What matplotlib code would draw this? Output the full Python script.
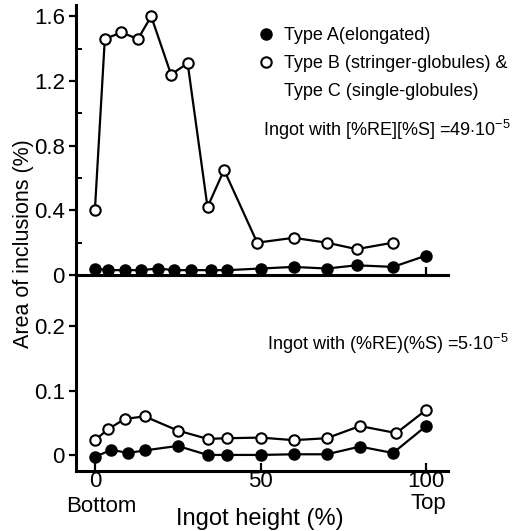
import matplotlib
matplotlib.use("Agg")
import matplotlib.pyplot as plt
from matplotlib.lines import Line2D
from matplotlib.ticker import FixedLocator

plt.rcParams['font.family'] = ['Liberation Sans', 'DejaVu Sans']
plt.rcParams['mathtext.fontset'] = 'custom'
plt.rcParams['mathtext.rm'] = 'Liberation Sans'
plt.rcParams['mathtext.it'] = 'Liberation Sans'

# ingot with [%RE][%S] = 49e-5
hi_height_a = [0, 4, 9, 14, 19, 24, 29, 35, 40, 50, 60, 70, 79, 90, 100]
hi_area_a = [0.04, 0.03, 0.03, 0.03, 0.04, 0.03, 0.03, 0.03, 0.03, 0.04, 0.05, 0.04, 0.06, 0.05, 0.12]
hi_height_bc = [0, 3, 8, 13, 17, 23, 28, 34, 39, 49, 60, 70, 79, 90]
hi_area_bc = [0.40, 1.46, 1.50, 1.46, 1.60, 1.24, 1.31, 0.42, 0.65, 0.20, 0.23, 0.20, 0.16, 0.20]

# ingot with (%RE)(%S) = 5e-5
lo_height_a = [0, 5, 10, 15, 25, 34, 40, 50, 60, 70, 80, 90, 100]
lo_area_a = [-0.003, 0.008, 0.003, 0.007, 0.014, 0.0, 0.0, 0.0, 0.001, 0.001, 0.013, 0.003, 0.045]
lo_height_bc = [0, 4, 9, 15, 25, 34, 40, 50, 60, 70, 80, 91, 100]
lo_area_bc = [0.023, 0.040, 0.056, 0.060, 0.038, 0.025, 0.026, 0.027, 0.023, 0.026, 0.045, 0.034, 0.070]

hi_yticks = [0, 0.4, 0.8, 1.2, 1.6]
hi_ytick_labels = ['0', '0.4', '0.8', '1.2', '1.6']
lo_yticks = [0, 0.1, 0.2]
lo_ytick_labels = ['0', '0.1', '0.2']
xticks = [0, 50, 100]

W, H = 526, 531
fig = plt.figure(figsize=(W / 100, H / 100), dpi=100)

def px(x0, y0, x1, y1):
    return [x0 / W, 1 - y1 / H, (x1 - x0) / W, (y1 - y0) / H]

ax_hi = fig.add_axes(px(76, 5, 448, 275))
ax_lo = fig.add_axes(px(76, 275, 448, 471))

lw = 1.6
ms = 7.5
mew = 1.5

ax_hi.plot(hi_height_bc, hi_area_bc, color='black', lw=lw, marker='o', ms=ms,
           mfc='white', mec='black', mew=mew, zorder=3)
ax_hi.plot(hi_height_a, hi_area_a, color='black', lw=lw, marker='o', ms=ms,
           mfc='black', mec='black', mew=mew, zorder=4)
ax_lo.plot(lo_height_bc, lo_area_bc, color='black', lw=lw, marker='o', ms=ms,
           mfc='white', mec='black', mew=mew, zorder=3)
ax_lo.plot(lo_height_a, lo_area_a, color='black', lw=lw, marker='o', ms=ms,
           mfc='black', mec='black', mew=mew, zorder=4)

for ax in (ax_hi, ax_lo):
    ax.set_xlim(-5.7, 106.6)
    ax.spines['top'].set_visible(False)
    ax.spines['right'].set_visible(False)
    for s in ('left', 'bottom'):
        ax.spines[s].set_linewidth(2.2)
    ax.set_xticks(xticks)
    ax.tick_params(axis='x', direction='in', length=6, width=1.6)
    ax.tick_params(axis='y', direction='out', length=5, width=1.6, labelsize=16, pad=3)
    ax.patch.set_alpha(0)

ax_hi.set_ylim(0, 1.67)
ax_hi.set_yticks(hi_yticks)
ax_hi.set_yticklabels(hi_ytick_labels)
ax_hi.yaxis.set_minor_locator(FixedLocator([0.2, 0.6, 1.0, 1.4]))
ax_hi.tick_params(axis='y', which='minor', direction='in', length=4, width=1.4)
ax_hi.tick_params(axis='x', labelbottom=False)

ax_lo.set_ylim(-0.025, 0.28)
ax_lo.set_yticks(lo_yticks)
ax_lo.set_yticklabels(lo_ytick_labels)
ax_lo.set_xticklabels(['0', '50', '100'])
ax_lo.tick_params(axis='x', labelsize=16, pad=0)

fig.text(101 / W, 1 - 507 / H, 'Bottom', fontsize=16, ha='center', va='center')
fig.text(428 / W, 1 - 504 / H, 'Top', fontsize=16, ha='center', va='center')
fig.text(260 / W, 1 - 519 / H, 'Ingot height (%)', fontsize=17, ha='center', va='center')
fig.text(24 / W, 1 - 244 / H, 'Area of inclusions (%)', fontsize=15.5,
         rotation=90, ha='center', va='center')

handles = [
    Line2D([], [], ls='none', marker='o', ms=ms, mfc='black', mec='black', mew=mew),
    Line2D([], [], ls='none', marker='o', ms=ms, mfc='white', mec='black', mew=mew),
    Line2D([], [], ls='none'),
]
labels = ['Type A(elongated)', 'Type B (stringer-globules) &', 'Type C (single-globules)']
ax_hi.legend(handles, labels, loc='upper left', bbox_to_anchor=(252 / W, 1 - 18 / H),
             bbox_transform=fig.transFigure, frameon=False, fontsize=13,
             handlelength=0.6, handletextpad=0.7, labelspacing=0.6, borderpad=0)

fig.text(263 / W, 1 - 130 / H, r'Ingot with [%RE][%S] =49$\cdot$10$^{-5}$',
         fontsize=13, ha='left', va='center')
fig.text(267 / W, 1 - 344 / H, r'Ingot with (%RE)(%S) =5$\cdot$10$^{-5}$',
         fontsize=13, ha='left', va='center')

fig.savefig('out.png', dpi=100)
